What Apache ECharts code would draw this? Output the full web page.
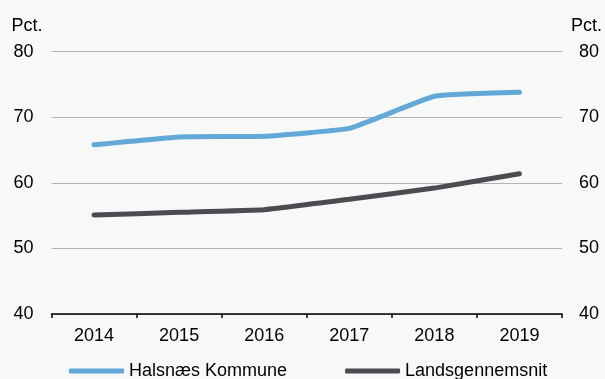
<!DOCTYPE html>
<html><head><meta charset="utf-8">
<script src="https://cdn.jsdelivr.net/npm/echarts@6/dist/echarts.min.js"></script>
<style>html,body{margin:0;padding:0;background:#f7f9f9;}#c{width:605px;height:379px;}</style>
</head><body><div id="c"></div>
<script>
const years = ['2014','2015','2016','2017','2018','2019'];
const halsnaes = [65.8, 67.0, 67.1, 68.3, 73.2, 73.8];
const landsgennemsnit = [55.1, 55.5, 55.9, 57.5, 59.2, 61.4];
const seriesNames = ['Halsnæs Kommune','Landsgennemsnit'];
const font = 'Liberation Sans, Arial, sans-serif';
const FS = 18;
const chart = echarts.init(document.getElementById('c'));
const yBase = {
  type:'value', min:40, max:80, interval:10,
  axisLine:{show:false}, axisTick:{show:false},
  splitLine:{show:true, lineStyle:{color:'#b3b3b3', width:1}},
  axisLabel:{color:'#000', fontSize:FS, fontFamily:font},
  name:'Pct.', nameLocation:'end', nameGap:17,
  nameTextStyle:{color:'#000', fontSize:FS, fontFamily:font}
};
chart.setOption({
  backgroundColor:'#f7f9f9',
  animation:false,
  grid:{left:51.5, right:41.5, top:51.7, bottom:65},
  legend:{
    top:357, left:64, itemGap:58, itemWidth:55, itemHeight:5,
    icon:'roundRect',
    textStyle:{color:'#000', fontSize:FS, fontFamily:font},
    data:seriesNames
  },
  xAxis:{
    type:'category', data:years, boundaryGap:true,
    axisLine:{lineStyle:{color:'#000', width:1.5}},
    axisTick:{show:true, length:4, lineStyle:{color:'#000', width:1.5}},
    axisLabel:{color:'#000', fontSize:FS, fontFamily:font, margin:13}
  },
  yAxis:[
    Object.assign({}, yBase, {position:'left', axisLabel:Object.assign({}, yBase.axisLabel, {margin:18}),
      nameTextStyle:Object.assign({}, yBase.nameTextStyle, {align:'right', padding:[0,9,0,0]})}),
    Object.assign({}, yBase, {position:'right', splitLine:{show:false}, axisLabel:Object.assign({}, yBase.axisLabel, {margin:17}),
      nameTextStyle:Object.assign({}, yBase.nameTextStyle, {align:'left', padding:[0,0,0,9]})})
  ],
  series:[
    {name:seriesNames[0], type:'line', data:halsnaes, smooth:0.1, showSymbol:false,
      lineStyle:{color:'#62a9d8', width:5, cap:'round'}, itemStyle:{color:'#62a9d8'}},
    {name:seriesNames[1], type:'line', data:landsgennemsnit, smooth:0.1, showSymbol:false,
      lineStyle:{color:'#4b4c52', width:5, cap:'round'}, itemStyle:{color:'#4b4c52'}}
  ]
});
</script></body></html>
